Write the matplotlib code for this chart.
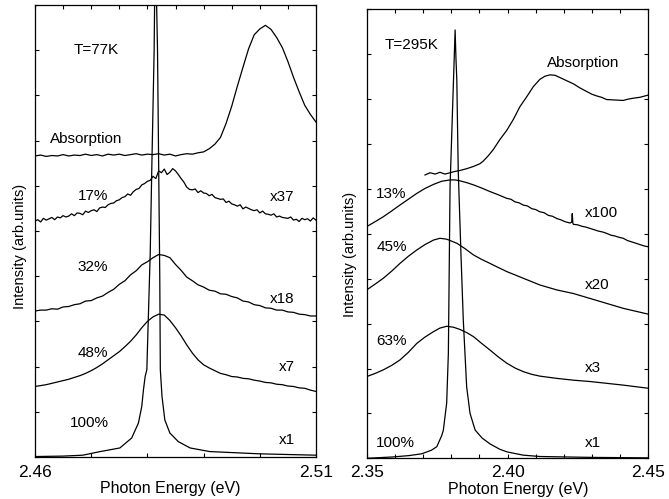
import numpy as np
import matplotlib
matplotlib.use("Agg")
import matplotlib.pyplot as plt
from matplotlib.ticker import MultipleLocator, FixedLocator

plt.rcParams['font.family'] = ['Liberation Sans', 'DejaVu Sans']

# ---------------- Left panel (T = 77 K) ----------------
absL_y = [6.66,6.68,6.65,6.67,6.66,6.69,6.66,6.68,6.67,6.70,
          6.67,6.69,6.66,6.70,6.68,6.70,6.67,6.69,6.71,6.68,
          6.70,6.69,6.71,6.68,6.70,6.66,6.69,6.71,6.70,6.73,
          6.75,6.82,6.92,7.07,7.38,7.76,8.20,8.62,9.03,9.34,
          9.47,9.55,9.46,9.28,9.06,8.75,8.40,8.08,7.78,7.58,7.41]

p17L_y = [5.22,5.25,5.20,5.28,5.24,5.27,5.30,5.25,5.31,5.29,
          5.34,5.31,5.33,5.38,5.34,5.40,5.39,5.36,5.44,5.41,
          5.45,5.47,5.43,5.51,5.53,5.52,5.58,5.61,5.62,5.67,
          5.69,5.74,5.76,5.82,5.79,5.87,5.92,5.94,6.02,6.05,
          6.10,6.12,6.21,6.16,6.33,6.29,6.37,6.25,6.30,6.38,
          6.33,6.25,6.16,6.08,5.97,5.92,5.91,5.93,5.85,5.89,
          5.84,5.83,5.78,5.81,5.74,5.72,5.70,5.71,5.63,5.66,
          5.60,5.58,5.55,5.58,5.49,5.53,5.50,5.47,5.45,5.47,
          5.40,5.44,5.38,5.37,5.35,5.38,5.31,5.33,5.30,5.29,
          5.28,5.31,5.24,5.26,5.21,5.28,5.25,5.27,5.22,5.29,5.24]

p32L_y = [3.23,3.25,3.25,3.28,3.27,3.32,3.33,3.37,3.39,3.45,
          3.46,3.52,3.56,3.64,3.71,3.82,3.90,4.03,4.12,4.25,
          4.32,4.41,4.48,4.46,4.41,4.26,4.13,3.98,3.90,3.81,
          3.76,3.69,3.67,3.61,3.60,3.55,3.52,3.45,3.43,3.37,
          3.35,3.30,3.29,3.25,3.25,3.21,3.20,3.16,3.15,3.12,3.12]

p48L_y = [1.56,1.58,1.60,1.63,1.66,1.69,1.72,1.76,1.80,1.85,
          1.91,1.98,2.06,2.15,2.24,2.33,2.44,2.56,2.70,2.86,
          3.00,3.10,3.16,3.14,3.02,2.86,2.68,2.48,2.30,2.15,
          2.04,1.97,1.91,1.85,1.82,1.78,1.77,1.74,1.73,1.70,
          1.68,1.65,1.64,1.61,1.60,1.57,1.56,1.53,1.52,1.48,1.45]

p100L_x = [2.4600, 2.4650, 2.4685, 2.4716, 2.4751, 2.4772, 2.4784, 2.4790,
           2.4793, 2.4796, 2.4799, 2.4801, 2.4805, 2.4808, 2.4812, 2.4814,
           2.4818, 2.4820, 2.4822, 2.4823, 2.4826, 2.4831, 2.4840, 2.4855,
           2.4876, 2.4911, 2.5000, 2.5100]
p100L_y = [0.01, 0.02, 0.04, 0.12, 0.20, 0.42, 0.75, 1.12,
           1.49, 1.78, 1.93, 2.80, 4.50, 6.50, 9.00, 11.5,
           9.00, 6.50, 4.00, 1.93, 1.34, 0.82, 0.53, 0.34,
           0.20, 0.12, 0.07, 0.04]

# ---------------- Right panel (T = 295 K) ----------------
absR_x = [2.3707, 2.3725, 2.3743, 2.3760, 2.3778, 2.3796, 2.3814, 2.3831,
          2.3855, 2.3879, 2.3902, 2.3914, 2.3932, 2.3950, 2.3973, 2.3997,
          2.4021, 2.4044, 2.4068, 2.4092, 2.4115, 2.4133, 2.4151, 2.4169,
          2.4186, 2.4210, 2.4234, 2.4257, 2.4281, 2.4299, 2.4317, 2.4334,
          2.4352, 2.4382, 2.4411, 2.4429, 2.4447, 2.4470, 2.4500]
absR_y = [6.31, 6.36, 6.33, 6.37, 6.33, 6.36, 6.39, 6.41,
          6.45, 6.50, 6.56, 6.62, 6.74, 6.88, 7.10, 7.30,
          7.55, 7.83, 8.05, 8.28, 8.44, 8.51, 8.54, 8.53,
          8.48, 8.41, 8.34, 8.25, 8.17, 8.11, 8.07, 8.04,
          7.99, 7.98, 7.97, 8.00, 8.02, 8.04, 8.09]

p13R_x = [2.3500, 2.3530, 2.3559, 2.3589, 2.3618, 2.3648, 2.3678, 2.3707,
          2.3737, 2.3766, 2.3796, 2.3814, 2.3831, 2.3855, 2.3879, 2.3908,
          2.3938, 2.3967, 2.3997, 2.4012, 2.4027, 2.4041, 2.4056, 2.4071,
          2.4086, 2.4100, 2.4115, 2.4130, 2.4145, 2.4160, 2.4175, 2.4190,
          2.4204, 2.4222, 2.4228, 2.4230, 2.4232, 2.4234, 2.4249, 2.4263,
          2.4278, 2.4293, 2.4308, 2.4323, 2.4338, 2.4352, 2.4367, 2.4382,
          2.4397, 2.4411, 2.4426, 2.4441, 2.4456, 2.4470, 2.4485, 2.4500]
p13R_y = [5.16, 5.27, 5.38, 5.51, 5.64, 5.77, 5.90, 6.01,
          6.10, 6.17, 6.20, 6.20, 6.18, 6.14, 6.09, 6.02,
          5.94, 5.87, 5.79, 5.77, 5.71, 5.69, 5.64, 5.62,
          5.56, 5.54, 5.49, 5.47, 5.41, 5.39, 5.34, 5.31,
          5.27, 5.24, 5.26, 5.45, 5.24, 5.21, 5.20, 5.17,
          5.15, 5.12, 5.09, 5.06, 5.04, 5.01, 4.97, 4.95,
          4.92, 4.90, 4.85, 4.82, 4.79, 4.76, 4.73, 4.71]

p45R_x = [2.3500, 2.3530, 2.3559, 2.3589, 2.3618, 2.3648, 2.3678, 2.3707,
          2.3737, 2.3760, 2.3784, 2.3820, 2.3849, 2.3879, 2.3908, 2.3938,
          2.3967, 2.3997, 2.4056, 2.4115, 2.4175, 2.4234, 2.4293, 2.4352,
          2.4411, 2.4500]
p45R_y = [3.75, 3.88, 4.01, 4.17, 4.34, 4.50, 4.64, 4.76,
          4.86, 4.90, 4.88, 4.79, 4.67, 4.53, 4.43, 4.34,
          4.25, 4.16, 4.01, 3.86, 3.75, 3.67, 3.56, 3.45,
          3.34, 3.21]

p63R_x = [2.3500, 2.3530, 2.3559, 2.3589, 2.3618, 2.3648, 2.3678, 2.3707,
          2.3737, 2.3760, 2.3784, 2.3808, 2.3831, 2.3855, 2.3879, 2.3908,
          2.3938, 2.3967, 2.3997, 2.4027, 2.4056, 2.4086, 2.4115, 2.4175,
          2.4234, 2.4293, 2.4352, 2.4411, 2.4500]
p63R_y = [1.82, 1.89, 1.97, 2.07, 2.19, 2.36, 2.56, 2.70,
          2.82, 2.90, 2.94, 2.92, 2.87, 2.80, 2.71, 2.56,
          2.41, 2.26, 2.12, 2.01, 1.93, 1.87, 1.83, 1.78,
          1.74, 1.71, 1.67, 1.63, 1.56]

p100R_x = [2.3500, 2.3593, 2.3650, 2.3695, 2.3730, 2.3749, 2.3766, 2.3772,
           2.3784, 2.3790, 2.3796, 2.3814, 2.3817, 2.3820, 2.3825, 2.3835,
           2.3843, 2.3855, 2.3867, 2.3885, 2.3910, 2.3938, 2.3973, 2.4000,
           2.4056, 2.4115, 2.4300, 2.4500]
p100R_y = [0.00, 0.03, 0.06, 0.10, 0.18, 0.26, 0.50, 0.62,
           1.23, 2.34, 6.05, 9.54, 8.90, 8.43, 6.42, 4.50,
           3.08, 1.59, 1.00, 0.63, 0.45, 0.32, 0.20, 0.14,
           0.07, 0.04, 0.02, 0.01]

left_labels = [("T=77K", 2.4668, 9.0), ("Absorption", 2.4627, 7.04),
               ("17%", 2.4677, 5.78), ("x37", 2.5018, 5.76),
               ("32%", 2.4675, 4.20), ("x18", 2.5018, 3.49),
               ("48%", 2.4675, 2.31), ("x7", 2.5034, 2.00),
               ("100%", 2.4662, 0.76), ("x1", 2.5034, 0.38)]
right_labels = [("T=295K", 2.3565, 9.2), ("Absorption", 2.4140, 8.8),
                ("13%", 2.3533, 5.89), ("x100", 2.4275, 5.46),
                ("45%", 2.3537, 4.71), ("x20", 2.4275, 3.86),
                ("63%", 2.3533, 2.61), ("x3", 2.4275, 2.01),
                ("100%", 2.3533, 0.34), ("x1", 2.4275, 0.34)]

LW = 0.9
FS = 11

fig = plt.figure(figsize=(6.69, 4.99), dpi=100)
axL = fig.add_axes([35/669, 42/499, 281/669, 452/499])
axR = fig.add_axes([366.7/669, 40.7/499, 281.6/669, 449/499])

# left curves
axL.plot(np.linspace(2.46, 2.51, len(absL_y)), absL_y, color='k', lw=LW)
axL.plot(np.linspace(2.46, 2.51, len(p17L_y)), p17L_y, color='k', lw=LW)
axL.plot(np.linspace(2.46, 2.51, len(p32L_y)), p32L_y, color='k', lw=LW)
axL.plot(np.linspace(2.46, 2.51, len(p48L_y)), p48L_y, color='k', lw=LW)
axL.plot(p100L_x, p100L_y, color='k', lw=LW)

# right curves
axR.plot(absR_x, absR_y, color='k', lw=LW)
axR.plot(p13R_x, p13R_y, color='k', lw=LW)
axR.plot(p45R_x, p45R_y, color='k', lw=LW)
axR.plot(p63R_x, p63R_y, color='k', lw=LW)
axR.plot(p100R_x, p100R_y, color='k', lw=LW)

for t, x, y in left_labels:
    axL.text(x, y, t, fontsize=FS, ha='left', va='center')
for t, x, y in right_labels:
    axR.text(x, y, t, fontsize=FS, ha='left', va='center')

# axes styling
axL.set_xlim(2.46, 2.51)
axR.set_xlim(2.35, 2.45)
for ax in (axL, axR):
    ax.set_ylim(0, 10)
    ax.yaxis.set_major_locator(MultipleLocator(1))
    ax.set_yticklabels([])
    ax.tick_params(axis='y', which='both', direction='in', left=True, right=True, length=3, width=0.8)
    for s in ax.spines.values():
        s.set_linewidth(0.9)

axL.xaxis.set_major_locator(FixedLocator([2.46, 2.47, 2.48, 2.49, 2.50, 2.51]))
axL.set_xticklabels(['2.46', '', '', '', '', '2.51'])
axL.xaxis.set_minor_locator(FixedLocator([2.465, 2.475, 2.485, 2.495, 2.505]))
axL.tick_params(axis='x', which='major', direction='in', top=True, bottom=True, length=3, width=0.8,
                labelsize=12.5, pad=6)
axL.tick_params(axis='x', which='minor', direction='in', top=True, bottom=False, length=3, width=0.8)

axR.xaxis.set_major_locator(FixedLocator([2.35, 2.40, 2.45]))
axR.set_xticklabels(['2.35', '2.40', '2.45'])
axR.xaxis.set_minor_locator(FixedLocator([2.36, 2.37, 2.38, 2.39, 2.41, 2.42, 2.43, 2.44]))
axR.tick_params(axis='x', which='both', direction='in', top=True, bottom=True, length=3, width=0.8,
                labelsize=12.5, pad=5)

axL.set_xlabel('Photon Energy (eV)', fontsize=11.5)
axR.set_xlabel('Photon Energy (eV)', fontsize=11.5)
axL.set_ylabel('Intensity (arb.units)', fontsize=10.5)
axR.set_ylabel('Intensity (arb.units)', fontsize=10.5)
axL.xaxis.set_label_coords(0.48, -0.052)
axR.xaxis.set_label_coords(0.537, -0.052)
axL.yaxis.set_label_coords(-0.028, 0.465)
axR.yaxis.set_label_coords(-0.034, 0.455)

fig.savefig('out.png', dpi=100)
